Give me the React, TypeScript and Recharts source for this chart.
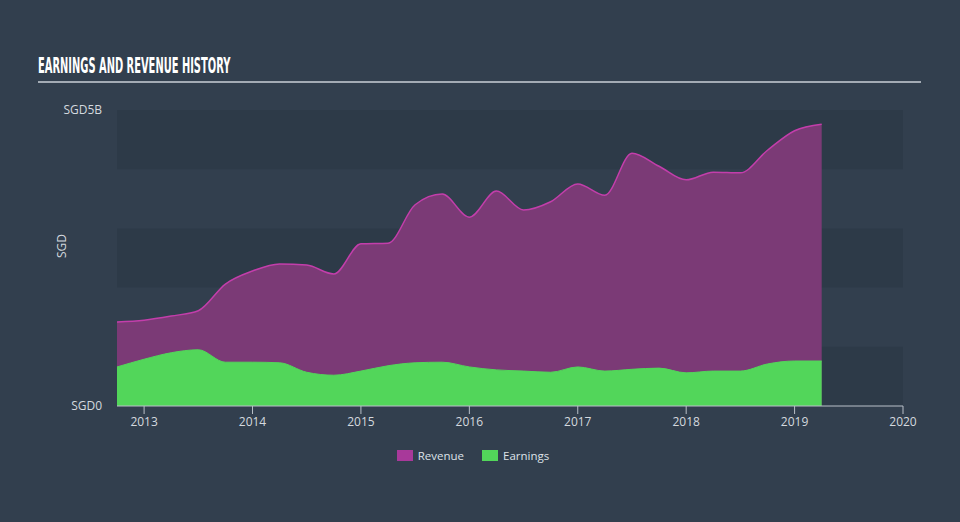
import React from "react";
import {
  ComposedChart,
  Area,
  XAxis,
  YAxis,
  ReferenceArea,
  Legend,
} from "recharts";

// quarter (decimal year)
const quarters = [
  2012.75, 2013.0, 2013.25, 2013.5, 2013.75, 2014.0, 2014.25, 2014.5, 2014.75,
  2015.0, 2015.25, 2015.5, 2015.75, 2016.0, 2016.25, 2016.5, 2016.75, 2017.0,
  2017.25, 2017.5, 2017.75, 2018.0, 2018.25, 2018.5, 2018.75, 2019.0, 2019.25,
];

// SGD billions
const revenue = [
  1.42, 1.45, 1.52, 1.61, 2.06, 2.28, 2.4, 2.38, 2.23, 2.74, 2.75, 3.4, 3.58,
  3.19, 3.63, 3.31, 3.45, 3.75, 3.56, 4.27, 4.05, 3.82, 3.95, 3.94, 4.32, 4.65,
  4.76,
];

const earnings = [
  0.66, 0.79, 0.9, 0.95, 0.74, 0.74, 0.73, 0.57, 0.52, 0.59, 0.68, 0.73, 0.74,
  0.66, 0.61, 0.59, 0.57, 0.66, 0.59, 0.62, 0.64, 0.56, 0.59, 0.59, 0.71, 0.76,
  0.76,
];

const yearTicks = [2013, 2014, 2015, 2016, 2017, 2018, 2019, 2020];

const data = quarters.map((t, i) => ({
  t,
  revenue: revenue[i],
  earnings: earnings[i],
}));

const BG = "#323f4e";
const BAND = "#2d3a48";
const FONT = "'Open Sans', sans-serif";

const legendItems = [
  { name: "Revenue", color: "#a8399a" },
  { name: "Earnings", color: "#52d65a" },
];

const LegendContent = () => (
  <div
    style={{
      display: "flex",
      justifyContent: "center",
      gap: 18,
      fontFamily: FONT,
      fontSize: 11.5,
      color: "#dde2e8",
      marginLeft: -14,
    }}
  >
    {legendItems.map((it) => (
      <div key={it.name} style={{ display: "flex", alignItems: "center" }}>
        <span
          style={{
            display: "inline-block",
            width: 16,
            height: 11,
            background: it.color,
            marginRight: 5,
          }}
        />
        {it.name}
      </div>
    ))}
  </div>
);

const yLabel = (v: number) => (v === 0 ? "SGD0" : "SGD5B");

export default function App() {
  return (
    <div
      style={{
        position: "absolute",
        left: 0,
        top: 0,
        width: 960,
        height: 522,
        background: BG,
      }}
    >
      <div
        style={{
          position: "absolute",
          left: 38,
          top: 53,
          fontFamily: "'DejaVu Sans Condensed', 'DejaVu Sans', sans-serif",
          fontWeight: 700,
          fontSize: 22,
          lineHeight: "26px",
          color: "#ffffff",
          whiteSpace: "nowrap",
          transform: "scaleX(0.5)",
          transformOrigin: "left top",
        }}
      >
        EARNINGS AND REVENUE HISTORY
      </div>
      <div
        style={{
          position: "absolute",
          left: 38,
          top: 81,
          width: 883,
          height: 2,
          background: "#a3abb4",
        }}
      />
      <div style={{ position: "absolute", left: 0, top: 0 }}>
        <ComposedChart
          width={960}
          height={522}
          data={data}
          margin={{ top: 110, right: 57, bottom: 86, left: 0 }}
        >
          <ReferenceArea y1={0} y2={1} fill={BAND} fillOpacity={1} />
          <ReferenceArea y1={2} y2={3} fill={BAND} fillOpacity={1} />
          <ReferenceArea y1={4} y2={5} fill={BAND} fillOpacity={1} />
          <XAxis
            dataKey="t"
            type="number"
            domain={[2012.75, 2020]}
            ticks={yearTicks}
            tickFormatter={(v) => String(v)}
            height={30}
            tickSize={8}
            tickMargin={3}
            stroke="#b9c0c8"
            tick={{ fill: "#d4d9df", fontSize: 12, fontFamily: FONT }}
            allowDataOverflow
          />
          <YAxis
            type="number"
            domain={[0, 5]}
            ticks={[0, 5]}
            width={117}
            tickFormatter={yLabel}
            tickLine={false}
            axisLine={false}
            tickSize={0}
            tickMargin={15}
            tick={{ fill: "#d4d9df", fontSize: 12, fontFamily: FONT }}
            label={{
              value: "SGD",
              angle: -90,
              position: "insideLeft",
              offset: 62,
              fill: "#d4d9df",
              fontSize: 12,
              fontFamily: FONT,
            }}
          />
          <Area
            type="monotone"
            dataKey="revenue"
            name="Revenue"
            stroke="#c33eab"
            strokeWidth={1.5}
            fill="#7b3a76"
            fillOpacity={1}
            isAnimationActive={false}
          />
          <Area
            type="monotone"
            dataKey="earnings"
            name="Earnings"
            stroke="#52d65a"
            strokeWidth={1}
            fill="#52d65a"
            fillOpacity={1}
            isAnimationActive={false}
          />
          <Legend
            layout="horizontal"
            verticalAlign="middle"
            align="center"
            content={<LegendContent />}
            wrapperStyle={{ top: 448, left: 0, width: 960 }}
          />
        </ComposedChart>
      </div>
    </div>
  );
}
